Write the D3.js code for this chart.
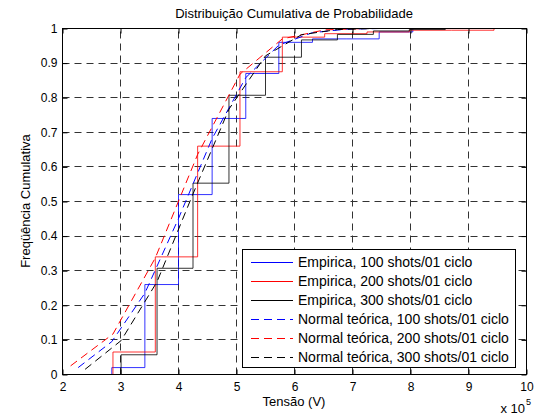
<!DOCTYPE html>
<html>
<head>
<meta charset="utf-8">
<script src="https://cdnjs.cloudflare.com/ajax/libs/d3/7.8.5/d3.min.js"></script>
<style>
  body { margin: 0; background: #fff; }
  text { font-family: "Liberation Sans", Arial, sans-serif; fill: #000; }
</style>
</head>
<body>
<div id="chart"></div>
<script>
const width = 538;
const height = 418;

// tick values (x in units of 1e5 V)
const xTicks = [2, 3, 4, 5, 6, 7, 8, 9, 10];
const yTicks = [0, 0.1, 0.2, 0.3, 0.4, 0.5, 0.6, 0.7, 0.8, 0.9, 1];

const emp100X = [2.27, 2.85, 3.42, 4.00, 4.58, 5.16, 5.73, 6.31, 6.89, 7.46, 8.04];
const emp100F = [0, 0.02, 0.26, 0.52, 0.74, 0.87, 0.96, 0.97, 0.97, 0.99, 1.00];
const emp200X = [2.14, 2.87, 3.60, 4.33, 5.06, 5.79, 6.52, 7.25, 7.98, 8.71, 9.44];
const emp200F = [0, 0.065, 0.34, 0.66, 0.875, 0.975, 0.985, 0.99, 0.995, 0.995, 1.00];
const emp300X = [2.39, 3.01, 3.63, 4.25, 4.87, 5.50, 6.12, 6.74, 7.36, 7.98, 8.60];
const emp300F = [0, 0.057, 0.307, 0.553, 0.807, 0.917, 0.967, 0.983, 0.993, 0.997, 1.00];

// theoretical normal curves, same x points
const norm100F = [0.02, 0.095, 0.235, 0.451, 0.682, 0.858, 0.952, 0.988, 0.998, 1.0, 1.0];
const norm200F = [0.025, 0.117, 0.337, 0.636, 0.868, 0.970, 0.996, 1.0, 1.0, 1.0, 1.0];
const norm300F = [0.015, 0.098, 0.268, 0.522, 0.767, 0.921, 0.982, 0.997, 1.0, 1.0, 1.0];

const legendLabels = [
    "Empirica, 100 shots/01 ciclo",
    "Empirica, 200 shots/01 ciclo",
    "Empirica, 300 shots/01 ciclo",
    "Normal teórica, 100 shots/01 ciclo",
    "Normal teórica, 200 shots/01 ciclo",
    "Normal teórica, 300 shots/01 ciclo"
];

const series = [
    { xs: emp100X, fs: emp100F, color: "#0000ff", dash: null, step: true },
    { xs: emp200X, fs: emp200F, color: "#ff0000", dash: null, step: true },
    { xs: emp300X, fs: emp300F, color: "#000000", dash: null, step: true },
    { xs: emp100X, fs: norm100F, color: "#0000ff", dash: "8,5", step: false },
    { xs: emp200X, fs: norm200F, color: "#ff0000", dash: "8,5", step: false },
    { xs: emp300X, fs: norm300F, color: "#000000", dash: "8,5", step: false }
];

const pLeft = 62.5, pRight = 526.5, pTop = 28.5, pBottom = 374.5;

const svg = d3.select("#chart")
    .append("svg")
    .attr("width", width)
    .attr("height", height);

const x = d3.scaleLinear().domain([2, 10]).range([pLeft, pRight]);
const y = d3.scaleLinear().domain([0, 1]).range([pBottom, pTop]);

svg.append("rect")
    .attr("x", pLeft).attr("y", pTop)
    .attr("width", pRight - pLeft).attr("height", pBottom - pTop)
    .attr("fill", "#fff");

// grid
const grid = svg.append("g")
    .attr("stroke", "#333")
    .attr("stroke-width", 1)
    .attr("stroke-dasharray", "7,5");

grid.selectAll("line.gx")
    .data(xTicks.slice(1, -1))
    .enter().append("line")
    .attr("x1", d => Math.floor(x(d)) + 0.5).attr("x2", d => Math.floor(x(d)) + 0.5)
    .attr("y1", pBottom).attr("y2", pTop);

grid.selectAll("line.gy")
    .data(yTicks.slice(1, -1))
    .enter().append("line")
    .attr("y1", d => Math.floor(y(d)) + 0.5).attr("y2", d => Math.floor(y(d)) + 0.5)
    .attr("x1", pLeft).attr("x2", pRight);

// curves
const stepLine = d3.line()
    .x(d => x(d[0]))
    .y(d => y(d[1]))
    .curve(d3.curveStepAfter);

const plainLine = d3.line()
    .x(d => x(d[0]))
    .y(d => y(d[1]));

series.forEach(s => {
    const pts = s.xs.map((v, i) => [v, s.fs[i]]);
    svg.append("path")
        .attr("d", s.step ? stepLine(pts) : plainLine(pts))
        .attr("fill", "none")
        .attr("stroke", s.color)
        .attr("stroke-width", 1)
        .attr("stroke-opacity", s.step ? 0.8 : 1)
        .attr("stroke-dasharray", s.dash);
});

// axes, ticks pointing inward on all sides
const fmtY = d => (d === 0 || d === 1) ? String(d) : d.toFixed(1);

const xAxis = svg.append("g")
    .attr("transform", `translate(0,${pBottom})`)
    .call(d3.axisBottom(x).tickValues(xTicks).tickSizeInner(-5).tickSizeOuter(0).tickPadding(8));
const xTop = svg.append("g")
    .attr("transform", `translate(0,${pTop})`)
    .call(d3.axisTop(x).tickValues(xTicks).tickSizeInner(-5).tickSizeOuter(0).tickFormat(""));
const yAxis = svg.append("g")
    .attr("transform", `translate(${pLeft},0)`)
    .call(d3.axisLeft(y).tickValues(yTicks).tickSizeInner(-5).tickSizeOuter(0).tickPadding(5).tickFormat(fmtY));
const yRight = svg.append("g")
    .attr("transform", `translate(${pRight},0)`)
    .call(d3.axisRight(y).tickValues(yTicks).tickSizeInner(-5).tickSizeOuter(0).tickFormat(""));

[xAxis, xTop, yAxis, yRight].forEach(g => {
    g.select(".domain").remove();
    g.selectAll("text").attr("font-size", 12).attr("font-family", null);
    g.selectAll("line").attr("stroke", "#000");
});

// legend
const lg = svg.append("g");
lg.append("rect")
    .attr("x", 242.5).attr("y", 249.5)
    .attr("width", 273).attr("height", 118)
    .attr("fill", "#fff").attr("stroke", "#000");

legendLabels.forEach((label, i) => {
    const cy = 262 + i * 19;
    lg.append("line")
        .attr("x1", 251).attr("x2", 293)
        .attr("y1", cy + 0.5).attr("y2", cy + 0.5)
        .attr("stroke", series[i].color)
        .attr("stroke-dasharray", series[i].dash);
    lg.append("text")
        .attr("x", 298).attr("y", cy + 5)
        .attr("font-size", 14)
        .text(label);
});

// frame
svg.append("rect")
    .attr("x", pLeft).attr("y", pTop)
    .attr("width", pRight - pLeft).attr("height", pBottom - pTop)
    .attr("fill", "none").attr("stroke", "#000");

// titles
svg.append("text")
    .attr("x", 294).attr("y", 18)
    .attr("text-anchor", "middle").attr("font-size", 13)
    .text("Distribuição Cumulativa de Probabilidade");

svg.append("text")
    .attr("x", 294).attr("y", 406)
    .attr("text-anchor", "middle").attr("font-size", 13)
    .text("Tensão (V)");

svg.append("text")
    .attr("transform", "translate(30,201) rotate(-90)")
    .attr("text-anchor", "middle").attr("font-size", 13)
    .text("Freqüência Cumulativa");

svg.append("text")
    .attr("x", 525).attr("y", 413)
    .attr("text-anchor", "end")
    .attr("font-size", 13)
    .text("x 10");
svg.append("text")
    .attr("x", 526).attr("y", 405)
    .attr("font-size", 9)
    .text("5");
</script>
</body>
</html>
